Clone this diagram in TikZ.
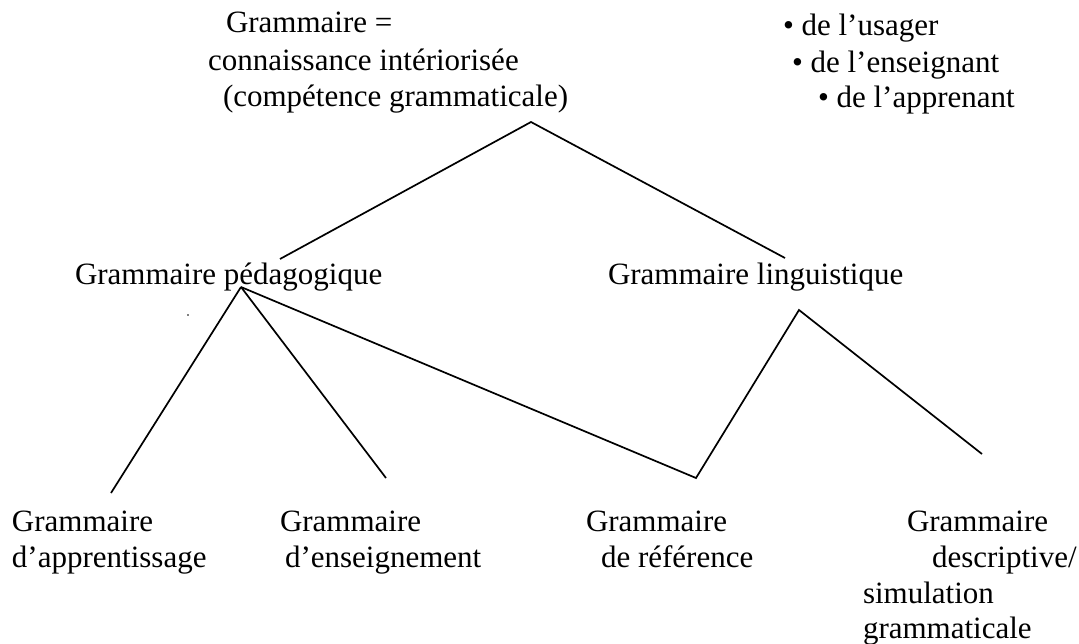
\documentclass[tikz,border=0pt]{standalone}
\usepackage{fontspec}
\setmainfont{Liberation Serif}
\begin{document}
\begin{tikzpicture}[x=1pt,y=-1pt,
  lbl/.style={anchor=base west,inner sep=0pt,outer sep=0pt,font=\fontsize{31}{36}\selectfont},
  conn/.style={draw=black,line width=1.7pt,line join=miter}]
\useasboundingbox (0,0) rectangle (1079,643);
% top block
\node[lbl] (g1) at (226,32) {Grammaire =};
\node[lbl] (g2) at (208,70) {connaissance intériorisée};
\node[lbl] (g3) at (223,106) {(compétence grammaticale)};
% list
\node[lbl] (u1) at (783,35) {• de l’usager};
\node[lbl] (u2) at (792,72) {• de l’enseignant};
\node[lbl] (u3) at (818,107) {• de l’apprenant};
% middle row
\node[lbl] (ped) at (75,284) {Grammaire pédagogique};
\node[lbl] (ling) at (608,284) {Grammaire linguistique};
% bottom row
\node[lbl] (a1) at (12,531) {Grammaire};
\node[lbl] (a2) at (12,567) {d’apprentissage};
\node[lbl] (e1) at (280,531) {Grammaire};
\node[lbl] (e2) at (285,567) {d’enseignement};
\node[lbl] (r1) at (586,531) {Grammaire};
\node[lbl] (r2) at (601,567) {de référence};
\node[lbl] (d1) at (907,531) {Grammaire};
\node[lbl] (d2) at (932,567) {descriptive/};
\node[lbl] (d3) at (863,603) {simulation};
\node[lbl] (d4) at (863,638) {grammaticale};
% stray dot
\fill (188,315) circle (0.9pt);
% connector points
\coordinate (top) at (531,122);
\coordinate (pedTop) at (280,259);
\coordinate (lingTop) at (785,258);
\coordinate (pedFoot) at (241,287);
\coordinate (appEnd) at (111,493);
\coordinate (ensEnd) at (386,478);
\coordinate (refV) at (696,478);
\coordinate (lingFoot) at (799,310);
\coordinate (descEnd) at (982,454);
\draw[conn] (pedTop) -- (top) -- (lingTop);
\draw[conn] (pedFoot) -- (appEnd);
\draw[conn] (pedFoot) -- (ensEnd);
\draw[conn] (pedFoot) -- (refV) -- (lingFoot) -- (descEnd);
\end{tikzpicture}
\end{document}
